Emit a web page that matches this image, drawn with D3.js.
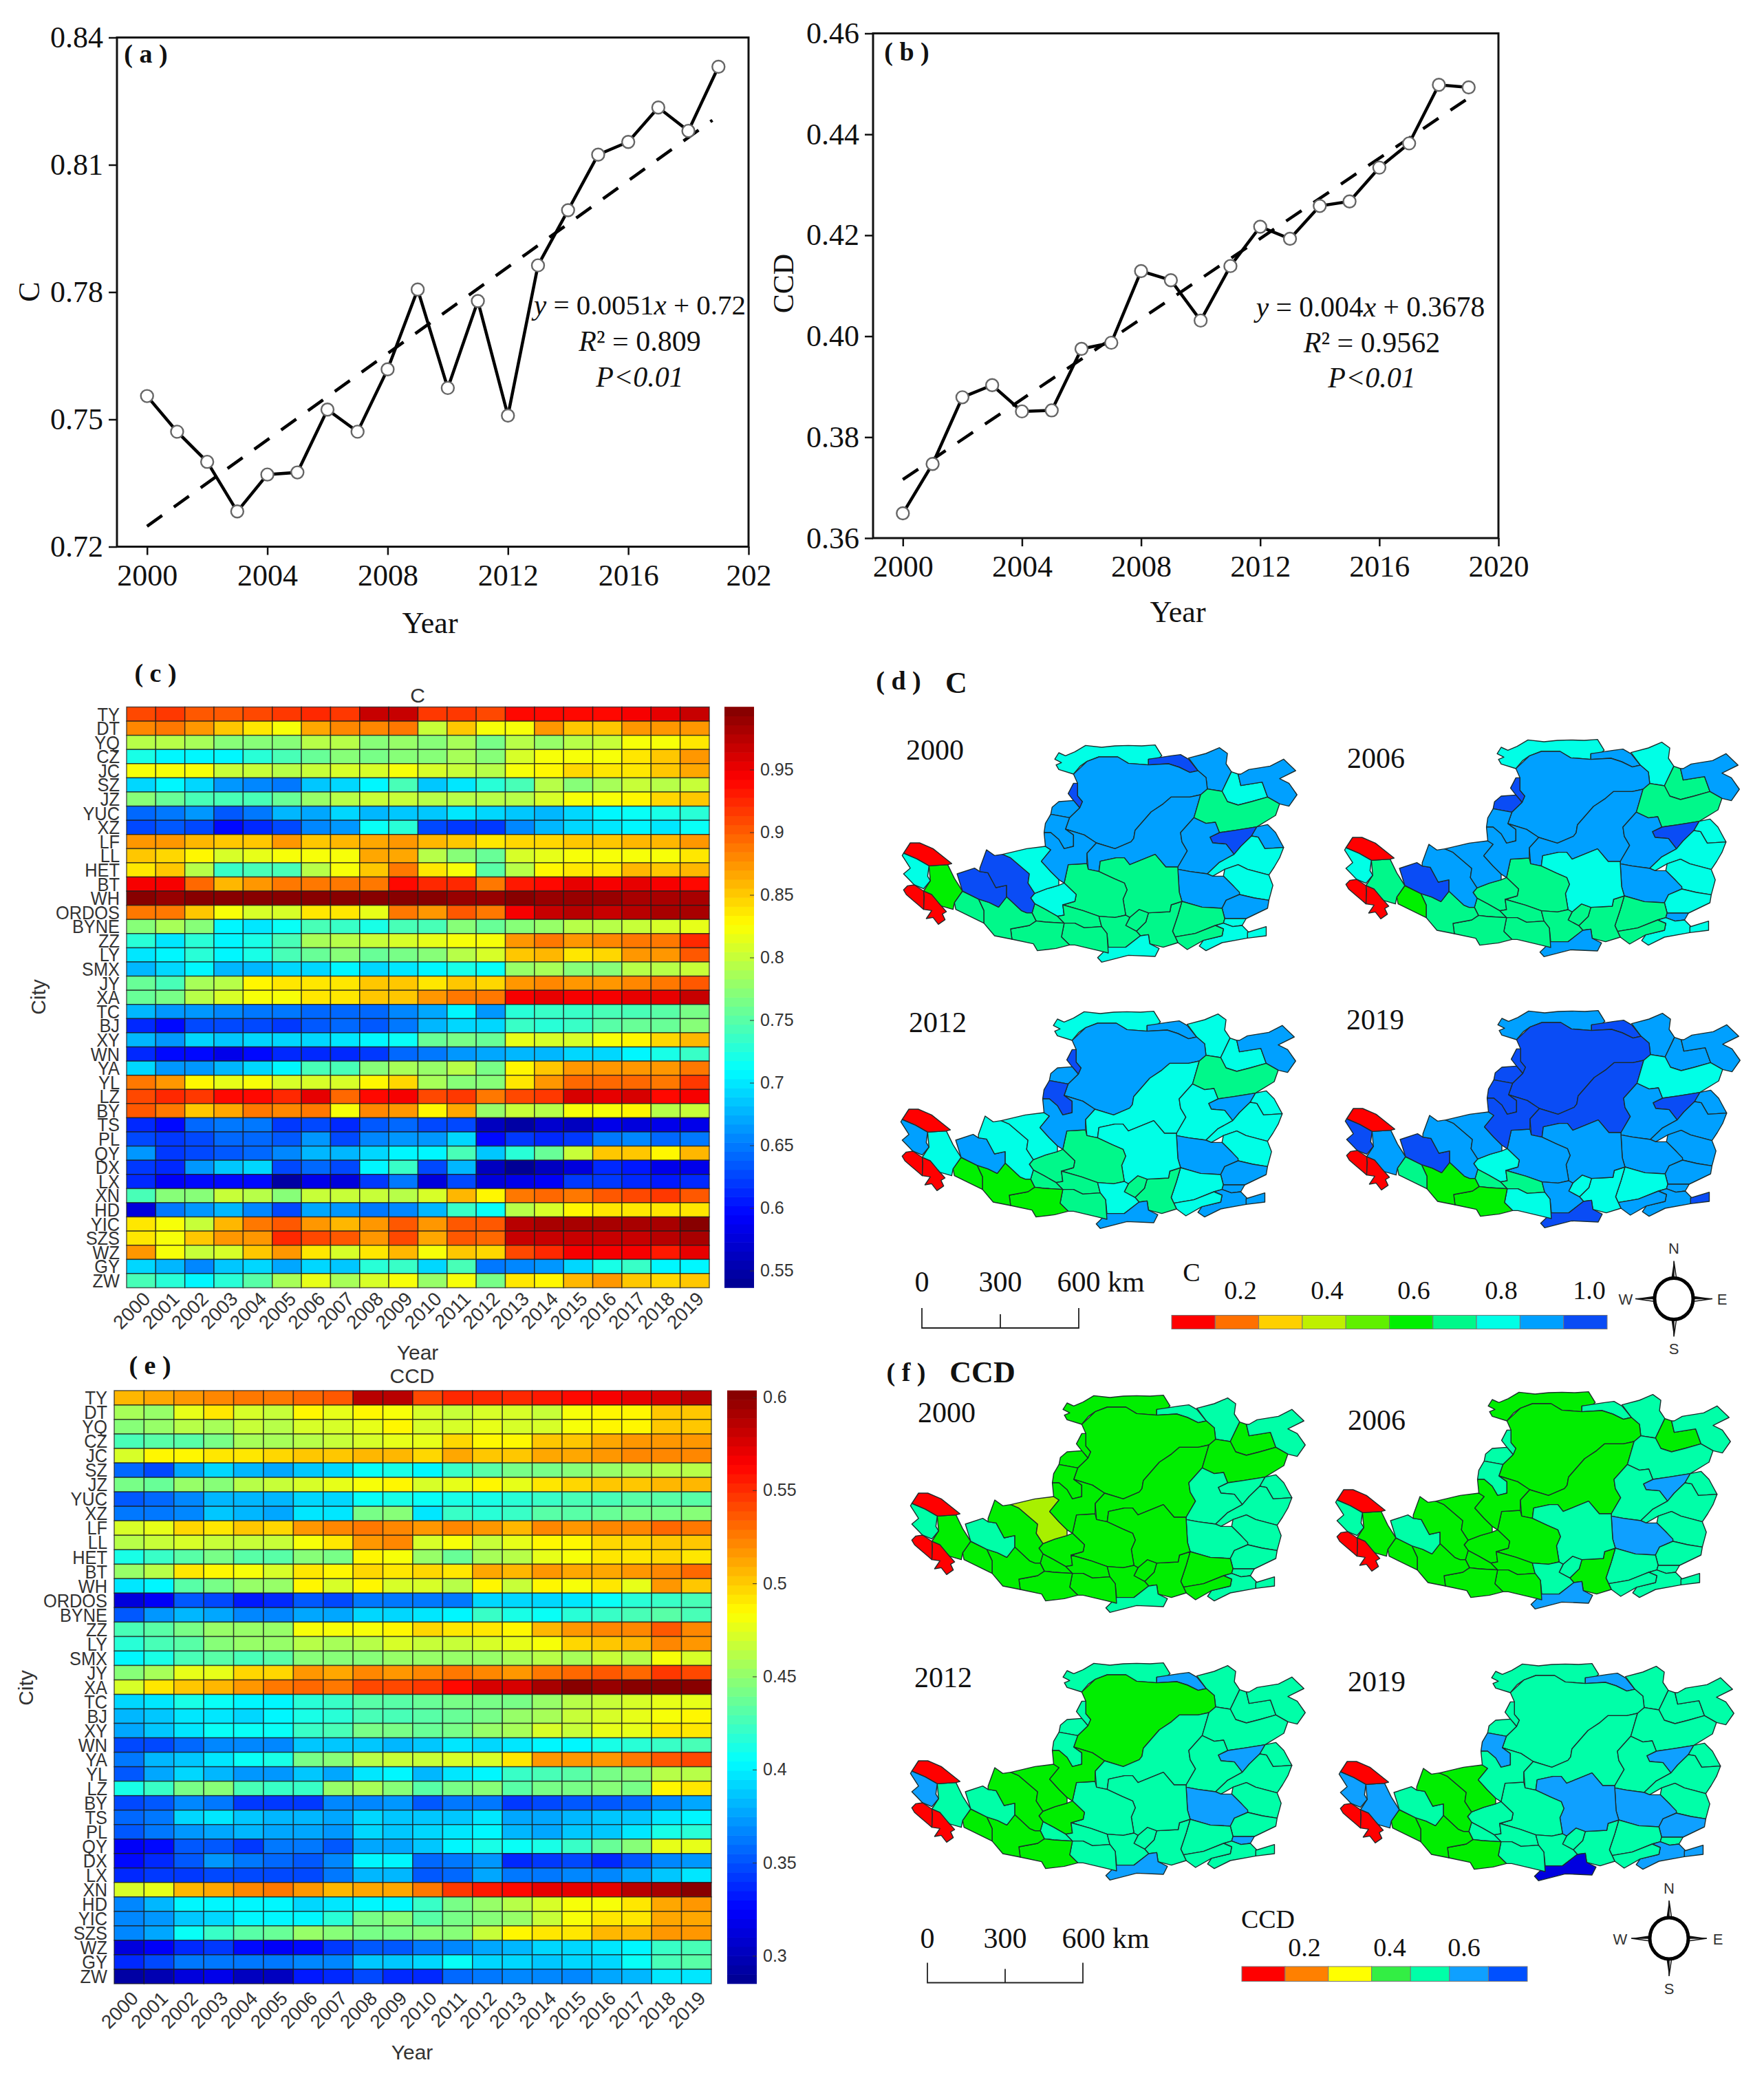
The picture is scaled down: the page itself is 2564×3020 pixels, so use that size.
<!DOCTYPE html>
<html><head><meta charset="utf-8">
<style>html,body{margin:0;padding:0;background:#fff}svg{display:block}</style>
<script src="https://cdn.jsdelivr.net/npm/d3@7"></script></head>
<body><svg id="c" width="2564" height="3020" xmlns="http://www.w3.org/2000/svg"></svg>
<script>
const yearsLine = d3.range(2000,2020);
const cMean = [.7555,.7471,.7400,.7283,.7370,.7375,.7523,.7471,.7618,.7806,.7574,.7779,.7509,.7863,.7993,.8124,.8154,.8235,.8180,.8331];
const ccdMean = [.3649,.3747,.3879,.3903,.3851,.3853,.3975,.3987,.4129,.4111,.4031,.4139,.4217,.4193,.4258,.4267,.4334,.4382,.4498,.4493];
const cTrend = [[2000,.7248],[2018.8,.8205]];
const ccdTrend = [[2000,.3716],[2018.9,.4468]];
const heatYears = d3.range(2000,2020).map(String);
const cities = ["TY","DT","YQ","CZ","JC","SZ","JZ","YUC","XZ","LF","LL","HET","BT","WH","ORDOS","BYNE","ZZ","LY","SMX","JY","XA","TC","BJ","XY","WN","YA","YL","LZ","BY","TS","PL","QY","DX","LX","XN","HD","YIC","SZS","WZ","GY","ZW"];
const cHeat = [
[.91,.915,.905,.905,.91,.915,.925,.92,.965,.97,.915,.915,.91,.94,.935,.94,.94,.945,.955,.965],
[.88,.885,.875,.85,.835,.825,.865,.88,.88,.89,.80,.85,.825,.825,.875,.85,.855,.87,.875,.875],
[.795,.79,.785,.77,.775,.775,.79,.79,.775,.78,.775,.785,.765,.79,.78,.795,.80,.825,.825,.84],
[.72,.705,.71,.705,.73,.745,.755,.775,.765,.775,.775,.785,.77,.81,.82,.825,.825,.84,.85,.875],
[.82,.825,.825,.80,.80,.79,.80,.81,.81,.825,.805,.80,.795,.825,.83,.845,.835,.84,.85,.865],
[.695,.71,.695,.66,.655,.645,.685,.695,.71,.74,.685,.70,.725,.745,.795,.775,.785,.80,.79,.80],
[.775,.755,.74,.745,.745,.76,.78,.79,.80,.80,.795,.79,.79,.795,.81,.825,.82,.83,.845,.855],
[.64,.645,.66,.635,.645,.68,.67,.69,.675,.685,.685,.70,.695,.685,.68,.695,.705,.715,.72,.73],
[.625,.635,.63,.60,.615,.625,.655,.66,.715,.725,.625,.62,.62,.655,.68,.69,.70,.705,.70,.715],
[.875,.87,.86,.85,.855,.875,.85,.86,.865,.87,.86,.85,.84,.845,.845,.85,.85,.86,.86,.875],
[.85,.845,.83,.81,.815,.825,.825,.825,.865,.865,.795,.775,.76,.805,.815,.825,.825,.825,.825,.84],
[.835,.85,.79,.735,.74,.74,.79,.82,.85,.885,.835,.825,.75,.79,.83,.835,.84,.86,.85,.86],
[.945,.945,.895,.86,.87,.885,.885,.885,.89,.935,.925,.925,.885,.93,.94,.95,.945,.955,.945,.935],
[.995,.99,.995,.995,.995,.995,.995,.995,.995,.995,.995,.99,.99,.995,.99,.99,.99,.985,.985,.98],
[.89,.885,.85,.82,.81,.805,.84,.84,.815,.885,.875,.905,.885,.945,.965,.975,.97,.975,.98,.985],
[.775,.785,.775,.71,.70,.715,.74,.735,.72,.745,.74,.77,.755,.77,.78,.79,.795,.80,.81,.815],
[.73,.70,.725,.705,.72,.745,.785,.795,.80,.805,.815,.825,.825,.875,.885,.875,.88,.89,.89,.925],
[.70,.705,.725,.705,.72,.74,.76,.77,.76,.765,.77,.795,.81,.85,.86,.835,.845,.875,.87,.90],
[.68,.69,.71,.68,.675,.69,.695,.705,.695,.70,.705,.72,.715,.78,.785,.77,.775,.79,.79,.80],
[.755,.74,.785,.79,.83,.835,.835,.84,.85,.855,.84,.85,.845,.87,.88,.875,.87,.88,.885,.905],
[.76,.765,.79,.805,.825,.825,.84,.84,.85,.855,.87,.885,.89,.945,.95,.945,.945,.955,.955,.965],
[.675,.66,.66,.655,.65,.645,.64,.64,.64,.655,.67,.705,.66,.725,.735,.735,.74,.745,.75,.765],
[.615,.60,.625,.625,.625,.62,.635,.64,.635,.65,.675,.69,.695,.735,.73,.735,.75,.755,.76,.77],
[.675,.665,.695,.685,.69,.695,.695,.70,.705,.715,.76,.765,.755,.815,.805,.805,.825,.83,.845,.86],
[.61,.60,.60,.585,.595,.61,.61,.615,.62,.64,.645,.665,.67,.675,.68,.69,.695,.71,.72,.735],
[.695,.665,.665,.68,.69,.705,.74,.745,.77,.785,.78,.79,.765,.83,.85,.87,.875,.875,.875,.885],
[.885,.87,.83,.815,.82,.81,.805,.81,.83,.845,.785,.775,.77,.84,.87,.895,.895,.895,.89,.915],
[.91,.925,.92,.935,.94,.925,.95,.895,.935,.945,.91,.92,.885,.91,.92,.96,.95,.96,.94,.945],
[.90,.885,.855,.865,.885,.88,.89,.825,.88,.875,.83,.865,.78,.80,.795,.82,.825,.83,.79,.80],
[.61,.595,.64,.645,.65,.62,.625,.61,.635,.64,.625,.63,.565,.55,.57,.565,.585,.575,.58,.585],
[.63,.62,.63,.64,.64,.635,.665,.625,.655,.665,.66,.695,.60,.62,.615,.62,.65,.655,.64,.65],
[.665,.62,.63,.635,.64,.655,.68,.68,.695,.705,.705,.74,.685,.725,.755,.80,.85,.855,.83,.86],
[.62,.61,.66,.685,.69,.625,.64,.625,.705,.735,.63,.675,.565,.54,.565,.575,.615,.605,.58,.58],
[.61,.59,.595,.60,.60,.55,.585,.575,.62,.65,.575,.625,.575,.58,.59,.62,.62,.615,.605,.615],
[.745,.775,.77,.80,.795,.775,.80,.80,.80,.79,.805,.86,.83,.89,.895,.89,.905,.91,.915,.905],
[.575,.65,.665,.675,.655,.63,.67,.66,.645,.655,.68,.735,.715,.795,.81,.83,.835,.84,.835,.84],
[.84,.82,.80,.86,.885,.90,.875,.86,.875,.90,.87,.90,.905,.975,.985,.98,.985,.985,.985,.995],
[.84,.825,.85,.87,.875,.925,.91,.905,.875,.91,.865,.905,.895,.97,.965,.97,.97,.97,.975,.985],
[.87,.825,.80,.81,.85,.875,.84,.805,.84,.86,.825,.85,.845,.91,.925,.945,.945,.945,.93,.95],
[.695,.675,.655,.685,.695,.67,.695,.685,.725,.735,.695,.74,.645,.655,.665,.695,.72,.735,.71,.71],
[.74,.725,.705,.725,.75,.785,.815,.785,.81,.82,.78,.82,.765,.84,.83,.86,.87,.85,.845,.855]];
const ccdHeat = [
[.505,.51,.515,.52,.525,.525,.53,.535,.585,.585,.54,.55,.55,.55,.555,.56,.565,.57,.575,.585],
[.455,.45,.475,.49,.47,.465,.485,.475,.485,.48,.47,.465,.47,.47,.465,.48,.485,.485,.50,.50],
[.445,.45,.46,.455,.465,.46,.47,.47,.475,.485,.47,.47,.475,.47,.47,.48,.485,.485,.50,.50],
[.425,.43,.43,.44,.455,.455,.46,.465,.47,.475,.475,.495,.485,.485,.50,.50,.51,.515,.515,.515],
[.47,.485,.485,.49,.49,.495,.50,.50,.505,.505,.495,.51,.50,.50,.51,.51,.515,.52,.52,.52],
[.355,.345,.375,.39,.38,.375,.385,.39,.405,.41,.40,.42,.43,.44,.44,.445,.45,.455,.46,.46],
[.44,.435,.45,.445,.46,.465,.47,.475,.48,.485,.47,.475,.485,.475,.49,.495,.50,.50,.505,.505],
[.35,.355,.365,.38,.38,.38,.39,.39,.405,.41,.405,.41,.41,.415,.42,.425,.425,.43,.43,.43],
[.36,.36,.365,.385,.38,.375,.395,.395,.44,.445,.395,.42,.415,.42,.43,.43,.435,.44,.44,.445],
[.47,.475,.495,.49,.50,.495,.515,.52,.525,.52,.515,.52,.515,.505,.52,.515,.52,.52,.53,.525],
[.46,.465,.47,.465,.465,.465,.48,.49,.515,.52,.47,.48,.465,.475,.485,.485,.495,.495,.50,.50],
[.41,.42,.43,.44,.43,.43,.445,.44,.485,.48,.45,.435,.455,.46,.475,.48,.49,.49,.495,.49],
[.45,.46,.49,.485,.48,.47,.49,.485,.495,.49,.495,.49,.51,.505,.515,.51,.51,.515,.52,.53],
[.395,.40,.43,.44,.45,.45,.485,.47,.485,.47,.47,.46,.485,.465,.485,.48,.49,.475,.515,.50],
[.31,.32,.35,.345,.33,.335,.35,.345,.36,.36,.36,.36,.39,.39,.39,.395,.405,.415,.42,.425],
[.35,.37,.38,.375,.365,.365,.375,.375,.39,.39,.395,.40,.42,.41,.405,.415,.42,.425,.43,.425],
[.425,.43,.44,.45,.45,.45,.48,.48,.48,.485,.495,.49,.49,.485,.505,.515,.52,.52,.535,.52],
[.415,.425,.43,.445,.45,.45,.46,.455,.46,.47,.465,.465,.47,.475,.48,.495,.50,.505,.52,.515],
[.40,.41,.425,.43,.425,.43,.445,.445,.445,.45,.45,.45,.45,.455,.46,.455,.465,.46,.48,.47],
[.445,.455,.475,.475,.495,.495,.515,.51,.52,.515,.52,.525,.52,.515,.525,.53,.535,.53,.545,.54],
[.47,.49,.50,.505,.515,.525,.53,.525,.54,.54,.545,.56,.575,.575,.59,.60,.595,.60,.60,.605],
[.39,.395,.41,.405,.40,.40,.415,.42,.43,.43,.435,.44,.44,.44,.45,.46,.465,.47,.475,.475],
[.38,.385,.395,.395,.39,.40,.41,.415,.425,.425,.43,.435,.44,.45,.455,.465,.47,.475,.48,.485],
[.375,.385,.395,.405,.405,.405,.42,.425,.44,.44,.435,.44,.45,.455,.47,.465,.475,.475,.49,.49],
[.345,.345,.355,.365,.365,.365,.385,.385,.385,.38,.385,.395,.39,.395,.40,.40,.41,.415,.42,.425],
[.36,.38,.385,.395,.405,.41,.44,.445,.46,.465,.465,.47,.47,.49,.515,.515,.515,.525,.535,.54],
[.35,.375,.39,.38,.37,.37,.385,.375,.395,.40,.38,.395,.40,.42,.425,.43,.44,.445,.46,.46],
[.41,.42,.44,.445,.425,.42,.42,.45,.455,.445,.43,.44,.445,.43,.44,.44,.445,.44,.485,.49],
[.345,.35,.365,.36,.34,.34,.34,.365,.365,.37,.35,.36,.36,.34,.345,.35,.35,.355,.365,.375],
[.355,.36,.39,.395,.385,.38,.38,.375,.39,.385,.385,.385,.395,.375,.375,.38,.385,.385,.395,.40],
[.35,.36,.37,.375,.38,.375,.375,.37,.39,.385,.39,.395,.40,.38,.375,.385,.385,.395,.41,.415],
[.32,.325,.35,.35,.34,.36,.36,.35,.375,.375,.385,.40,.41,.405,.41,.42,.435,.445,.475,.475],
[.325,.335,.35,.37,.36,.355,.35,.365,.40,.40,.355,.36,.37,.335,.34,.345,.335,.35,.365,.37],
[.335,.34,.34,.345,.345,.345,.345,.36,.38,.38,.35,.355,.375,.36,.36,.365,.365,.375,.385,.395],
[.47,.475,.505,.51,.52,.525,.515,.505,.51,.51,.525,.545,.555,.56,.57,.57,.57,.585,.59,.60],
[.365,.38,.40,.40,.40,.40,.39,.395,.40,.40,.42,.44,.45,.46,.47,.48,.48,.49,.51,.515],
[.365,.37,.385,.39,.40,.40,.40,.415,.44,.445,.43,.44,.445,.45,.465,.48,.49,.49,.51,.51],
[.365,.375,.405,.42,.43,.435,.45,.445,.44,.44,.445,.445,.465,.485,.49,.49,.505,.505,.515,.515],
[.31,.32,.335,.34,.325,.32,.325,.34,.35,.35,.36,.365,.375,.38,.39,.39,.395,.40,.42,.425],
[.335,.345,.36,.36,.36,.36,.365,.365,.385,.385,.39,.405,.39,.39,.385,.39,.39,.405,.425,.43],
[.29,.295,.31,.315,.30,.30,.33,.335,.345,.335,.335,.355,.36,.365,.365,.365,.375,.38,.395,.395]];
const jetStops = [0,.125,.375,.625,.875,1];
const jetColors = ["#00008f","#0000ff","#00ffff","#ffff00","#ff0000","#800000"];

// city outlines of the plateau, traced in a local map frame; order matches the class lists below
const mapShapes = [
[[625,100],[640,72],[665,85],[700,68],[740,40],[800,48],[850,42],[900,40],[950,42],[1000,38],[1025,85],[1010,100],[975,100],[975,125],[900,118],[860,90],[790,90],[745,110],[720,130],[695,165],[640,145],[630,125],[650,115]],
[[975,100],[1060,85],[1095,80],[1125,100],[1160,150],[1130,158],[1090,135],[1050,120],[975,125]],
[[1125,95],[1190,75],[1240,50],[1270,75],[1265,120],[1285,155],[1250,240],[1195,230],[1190,180],[1160,150]],
[[1250,240],[1285,155],[1310,165],[1320,215],[1400,200],[1420,265],[1360,285],[1310,300],[1270,285]],
[[1320,165],[1350,145],[1430,130],[1480,100],[1525,150],[1465,185],[1500,205],[1530,255],[1500,305],[1465,295],[1420,265],[1400,200],[1320,215],[1310,165]],
[[695,165],[745,110],[790,90],[860,90],[900,118],[975,125],[1050,120],[1090,135],[1130,158],[1160,150],[1190,180],[1195,230],[1170,255],[1130,265],[1060,265],[1030,295],[985,330],[925,410],[920,445],[910,460],[850,490],[780,465],[735,430],[665,405],[680,355],[718,312],[728,285],[710,260],[710,205]],
[[675,250],[695,205],[710,205],[710,260],[728,285],[718,312],[695,280]],
[[1030,295],[1060,265],[1130,265],[1170,255],[1145,355],[1095,420],[1100,460],[1120,500],[1085,570],[1040,570],[1000,515],[905,560],[885,530],[855,530],[795,545],[790,590],[750,580],[745,510],[780,465],[850,490],[910,460],[920,445],[925,410],[985,330]],
[[1145,355],[1170,255],[1195,230],[1250,240],[1270,285],[1310,300],[1360,285],[1420,265],[1465,295],[1450,345],[1380,395],[1300,410],[1240,420],[1225,375],[1190,380]],
[[1205,440],[1240,420],[1300,410],[1380,395],[1360,435],[1320,480],[1295,515],[1265,470],[1215,465]],
[[1380,395],[1420,385],[1450,420],[1480,485],[1410,490],[1385,440],[1360,435]],
[[1145,355],[1190,380],[1225,375],[1240,420],[1205,440],[1215,465],[1265,470],[1295,515],[1240,550],[1195,600],[1130,590],[1085,580],[1085,570],[1120,500],[1100,460],[1095,420]],
[[1320,480],[1360,435],[1385,440],[1410,490],[1480,485],[1465,530],[1445,570],[1425,605],[1345,580],[1310,560],[1260,580],[1215,610],[1195,600],[1240,550],[1295,515]],
[[1260,580],[1310,560],[1345,580],[1425,605],[1440,650],[1425,715],[1370,705],[1315,690],[1290,650],[1255,610]],
[[1085,580],[1130,590],[1195,600],[1215,610],[1255,610],[1290,650],[1315,680],[1315,690],[1265,715],[1250,750],[1175,745],[1100,720],[1090,680]],
[[1265,715],[1315,690],[1370,705],[1425,715],[1420,750],[1340,795],[1260,795],[1250,750]],
[[1100,720],[1175,745],[1250,750],[1260,795],[1255,815],[1225,825],[1150,860],[1075,875],[1065,850],[1085,780]],
[[1260,795],[1340,795],[1325,825],[1290,830],[1255,815]],
[[1255,815],[1290,830],[1325,825],[1350,855],[1345,880],[1250,900],[1190,935],[1165,915],[1180,890],[1250,870],[1255,840],[1225,825]],
[[1345,855],[1415,830],[1415,870],[1345,880]],
[[1075,875],[1150,860],[1225,825],[1255,840],[1250,870],[1180,890],[1120,930],[1085,900]],
[[975,770],[1055,765],[1060,735],[1100,720],[1085,780],[1065,850],[1075,875],[1085,900],[1030,920],[980,905],[975,865],[945,870],[930,850],[965,810]],
[[940,755],[975,770],[965,810],[930,850],[890,825],[905,790]],
[[905,560],[1000,515],[1040,570],[1085,570],[1085,580],[1090,680],[1100,720],[1060,735],[1055,765],[975,770],[940,755],[905,790],[890,780],[880,710],[895,670],[885,640],[845,620],[790,590],[795,545],[855,530],[885,530]],
[[675,560],[745,555],[750,580],[790,590],[845,620],[885,640],[895,670],[880,710],[890,780],[850,790],[790,785],[730,760],[655,735],[700,720],[705,690],[660,640]],
[[640,650],[660,640],[705,690],[700,720],[655,735],[660,780],[635,785],[590,755],[550,730],[535,705],[550,685],[595,665]],
[[655,735],[730,760],[790,785],[800,830],[735,835],[700,815],[660,815],[635,785],[660,780]],
[[550,730],[590,755],[635,785],[660,815],[590,810],[555,805],[540,770]],
[[790,785],[850,790],[890,780],[905,790],[890,825],[930,850],[945,870],[890,920],[825,920],[820,860],[800,830]],
[[825,920],[890,920],[945,870],[975,865],[980,905],[1015,925],[1000,960],[900,955],[800,985],[785,965]],
[[660,815],[700,815],[735,835],[800,830],[820,860],[825,945],[790,935],[700,910],[680,910],[650,875]],
[[460,840],[530,825],[555,805],[590,810],[660,815],[650,875],[680,910],[630,925],[560,935],[545,905],[465,885]],
[[340,710],[380,725],[415,745],[445,700],[500,760],[520,770],[540,770],[555,805],[530,825],[460,840],[465,885],[400,870],[360,815],[360,760]],
[[280,675],[340,710],[360,760],[360,815],[255,755],[250,725]],
[[155,565],[225,560],[250,620],[280,675],[250,725],[245,755],[200,740],[135,675],[160,630]],
[[60,510],[85,465],[120,465],[170,490],[240,555],[225,560],[155,565],[110,535]],
[[55,520],[60,510],[110,535],[155,565],[150,610],[160,630],[135,665],[100,648],[60,600],[85,575]],
[[60,670],[75,652],[100,648],[135,675],[137,700],[135,755],[115,735],[90,710],[70,690]],
[[135,675],[165,690],[190,725],[220,765],[205,775],[215,800],[190,820],[170,790],[145,795],[165,760],[135,755],[137,700]],
[[260,600],[325,575],[345,590],[375,595],[405,660],[445,650],[445,700],[415,745],[380,725],[340,710],[280,675]],
[[345,575],[370,495],[400,520],[430,515],[460,530],[530,600],[525,640],[550,685],[535,705],[550,730],[540,770],[520,770],[500,760],[445,700],[445,650],[405,660],[375,595],[345,590]],
[[430,515],[520,490],[590,480],[610,495],[575,545],[610,590],[640,625],[640,650],[595,665],[550,685],[525,640],[530,600],[460,530]],
[[610,340],[615,310],[640,285],[695,280],[718,312],[680,355]],
[[590,380],[610,340],[680,355],[665,405],[695,430],[695,480],[660,490],[640,450],[610,420],[585,420]],
[[585,420],[610,420],[640,450],[660,490],[695,480],[695,430],[665,405],[735,430],[780,465],[745,510],[745,555],[675,560],[660,640],[640,625],[610,590],[575,545],[610,495],[590,480]]
];
const dYears = ["2000","2006","2012","2019"];
const dClass2000 = [7,9,8,7,8,8,9,8,6,9,8,8,7,7,8,8,6,7,7,7,6,6,6,6,6,7,6,6,6,7,6,6,6,6,5,0,7,0,0,9,9,7,8,8,8];
const dClass2006 = [7,8,7,6,8,8,9,8,6,9,7,8,7,7,8,7,6,8,7,7,6,6,6,7,6,6,6,6,6,8,6,6,6,5,6,0,7,0,0,9,8,8,9,8,8];
const dClass2012 = [7,8,7,7,8,8,9,7,6,8,7,7,7,7,8,8,7,8,8,8,7,6,6,7,6,6,6,6,7,8,6,5,5,5,7,0,8,0,0,8,7,7,8,9,8];
const dClass2019 = [8,9,8,8,8,9,9,9,7,9,8,8,8,8,8,8,7,8,8,9,8,7,7,8,8,7,6,6,8,9,7,5,5,6,8,0,9,0,0,9,8,8,9,9,9];
const fClass2000 = [2,3,3,2,3,2,2,2,2,3,3,3,3,3,3,3,2,3,3,3,2,2,2,2,2,2,2,2,2,3,2,2,2,2,2,0,3,0,0,3,2,1,2,2,2];
const fClass2006 = [2,3,3,2,3,2,3,2,3,4,3,3,3,3,4,3,3,3,3,3,3,2,3,3,2,2,2,2,3,4,2,2,2,2,2,0,3,0,0,3,2,2,3,3,2];
const fClass2012 = [3,4,3,3,3,2,3,3,3,4,3,3,3,3,4,3,3,4,3,3,3,3,3,3,3,2,3,3,3,4,3,2,2,2,3,0,4,0,0,3,2,2,3,3,2];
const fClass2019 = [3,4,3,3,3,3,3,3,3,4,3,3,3,3,4,4,3,3,4,4,3,3,3,4,3,3,3,3,3,5,3,2,2,2,4,0,4,0,0,3,2,2,3,4,3];
const dPalette = ["#ff0000","#ff7000","#ffd000","#bff000","#60f000","#00f000","#00f88a","#00ffe6","#00a0ff","#0a4cf5"];
const fPalette = ["#ff0000","#a8f000","#00ee00","#00ffa8","#0fa0ff","#0000e0"];
const dLegendLabels = ["0.2","0.4","0.6","0.8","1.0"];
const dLegendColors = dPalette;
const fLegendColors = ["#ff0000","#ff8000","#ffff00","#33ee44","#00ffa8","#0fa0ff","#0050ff"];
const fLegendEdges = [0,.1,.2,.3,.39,.48,.57,.66];
const fLegendLabels = ["0.2","0.4","0.6"];

const SERIF="'Liberation Serif',serif", SANS="'Liberation Sans',sans-serif";
const svg=d3.select("#c");
svg.append("rect").attr("width",2564).attr("height",3020).attr("fill","#fff");
function T(x,y,s,o={}){
  const t=svg.append("text").attr("x",x).attr("y",y).attr("dy",".35em").attr("text-anchor",o.a||"middle")
   .attr("font-family",o.f||SERIF).attr("font-size",o.s||40).attr("font-weight",o.w||"normal").attr("fill",o.c||"#111");
  if(o.i)t.attr("font-style","italic");
  if(o.r!=null)t.attr("transform",`rotate(${o.r} ${x} ${y})`);
  if(Array.isArray(s))s.forEach(p=>{const k=t.append("tspan").text(p[0]);if(p[1])k.attr("font-style","italic");});
  else t.text(s);
  return t;
}
function linePanel(b,ydom,yt,data,trend,xLabel){
  const x=d3.scaleLinear().domain([1999,2020]).range([b.l,b.r]);
  const y=d3.scaleLinear().domain(ydom).range([b.b,b.t]);
  const ax=d3.axisBottom(x).tickValues(d3.range(2000,2021,4)).tickSize(12).tickPadding(13).tickFormat(xLabel);
  const ay=d3.axisLeft(y).tickValues(yt).tickSize(12).tickPadding(8).tickFormat(d3.format(".2f"));
  [[ax,`translate(0,${b.b})`],[ay,`translate(${b.l},0)`]].forEach(([a,tr])=>{
    const g=svg.append("g").attr("transform",tr).call(a);
    g.selectAll("text").attr("font-family",SERIF).attr("font-size",44).attr("fill","#111");
    g.selectAll("line").attr("stroke","#111").attr("stroke-width",2.5);
    g.select(".domain").remove();
  });
  svg.append("rect").attr("x",b.l).attr("y",b.t).attr("width",b.r-b.l).attr("height",b.b-b.t).attr("fill","none").attr("stroke","#111").attr("stroke-width",3);
  const ln=d3.line().x(d=>x(d[0])).y(d=>y(d[1]));
  svg.append("path").attr("d",ln(trend)).attr("fill","none").attr("stroke","#000").attr("stroke-width",4.5).attr("stroke-dasharray","27 21");
  const pts=yearsLine.map((k,i)=>[k,data[i]]);
  svg.append("path").attr("d",ln(pts)).attr("fill","none").attr("stroke","#000").attr("stroke-width",4.5);
  svg.selectAll(null).data(pts).enter().append("circle").attr("cx",d=>x(d[0])).attr("cy",d=>y(d[1])).attr("r",9)
    .attr("fill","#fff").attr("stroke","#666").attr("stroke-width",2.4);
}
linePanel({l:170,r:1088,t:54.5,b:794.5},[.72,.84],[.72,.75,.78,.81,.84],cMean,cTrend,d=>d===2020?"202":String(d));
linePanel({l:1269,r:2178,t:48.5,b:782},[.36,.46],[.36,.38,.40,.42,.44,.46],ccdMean,ccdTrend,String);
T(42,424,"C",{r:-90,s:44});T(1138,412,"CCD",{r:-90,s:42});
T(625,905,"Year",{s:44});T(1712,889,"Year",{s:44});
T(212,78,"( a )",{w:"bold",s:38});T(1318,75,"( b )",{w:"bold",s:38});
T(930,443,[["y",1],[" = 0.0051"],["x",1],[" + 0.72"]],{s:41});
T(930,495,[["R",1],["² = 0.809"]],{s:42});T(930,547,"P<0.01",{s:42,i:1});
T(1992,445,[["y",1],[" = 0.004"],["x",1],[" + 0.3678"]],{s:41.5});
T(1994,497,[["R",1],["² = 0.9562"]],{s:42});T(1994,548,"P<0.01",{s:42,i:1});

function heat(b,cb,dom,cbTicks,mat,title,pos){
  const x=d3.scaleBand().domain(heatYears).range([b.l,b.r]);
  const y=d3.scaleBand().domain(cities).range([b.t,b.b]);
  const cs=d3.scaleLinear().domain(jetStops).range(jetColors).clamp(true);
  const nrm=d3.scaleLinear().domain(dom).range([0,1]).clamp(true);
  const q=v=>cs((Math.floor(nrm(v)*63.999)+.5)/64);
  mat.forEach((row,i)=>row.forEach((v,j)=>{
    svg.append("rect").attr("x",x(heatYears[j])).attr("y",y(cities[i])).attr("width",x.bandwidth()).attr("height",y.bandwidth())
      .attr("fill",q(v)).attr("stroke","#1a1a1a").attr("stroke-opacity",.72).attr("stroke-width",1.5);
  }));
  const ay=svg.append("g").attr("transform",`translate(${b.l},0)`).call(d3.axisLeft(y).tickSize(0));
  ay.select(".domain").remove();
  ay.selectAll("text").attr("font-family",SANS).attr("font-size",27).attr("fill","#333").attr("text-anchor","end")
    .attr("x",-pos.lab/.94).attr("dy",".36em").attr("transform","scale(.94,1)");
  const ax=svg.append("g").attr("transform",`translate(0,${b.b})`).call(d3.axisBottom(x).tickSize(0));
  ax.select(".domain").remove();
  ax.selectAll("text").attr("font-family",SANS).attr("font-size",28).attr("fill","#333").attr("text-anchor","end").attr("dy",0)
    .attr("y",0).attr("x",0).attr("transform",`translate(15,${pos.tk}) rotate(-45)`);
  const ys=d3.scaleLinear().domain(dom).range([b.b,b.t]);
  const n=64, h=(b.b-b.t)/n;
  d3.range(n).forEach(k=>svg.append("rect").attr("x",cb.l).attr("y",b.b-(k+1)*h-.3).attr("width",cb.r-cb.l).attr("height",h+.6)
     .attr("fill",cs((k+.5)/n)));
  const g=svg.append("g").attr("transform",`translate(${cb.r},0)`).call(d3.axisRight(ys).tickValues(cbTicks).tickSize(-6).tickFormat(d=>String(+d.toFixed(2))));
  g.select(".domain").remove();
  g.selectAll("line").attr("stroke","#333");
  g.selectAll("text").attr("font-family",SANS).attr("font-size",25).attr("fill","#333").attr("x",9);
  T(pos.cityX,pos.cityY,"City",{f:SANS,s:30,r:-90,c:"#333"});
  T(pos.titleX,pos.titleY,title,{f:SANS,s:30,c:"#333"});
  T(pos.titleX,pos.yearY,"Year",{f:SANS,s:30,c:"#333"});
}
heat({l:184,r:1031,t:1027.5,b:1871.5},{l:1053,r:1096},[.5363,1.0],[.55,.6,.65,.7,.75,.8,.85,.9,.95],cHeat,"C",
  {lab:10,tk:18,cityX:55,cityY:1449,titleX:607,titleY:1010,yearY:1965});
heat({l:166,r:1034,t:2021,b:2883},{l:1057,r:1100},[.285,.6035],[.3,.35,.4,.45,.5,.55,.6],ccdHeat,"CCD",
  {lab:10,tk:23,cityX:37,cityY:2453,titleX:599,titleY:1999,yearY:2982});
T(226,978,"( c )",{w:"bold",s:38});T(218,1984,"( e )",{w:"bold",s:38});

function drawMap(x0,y0,cls,pal,yr,lx,ly){
  const xs=d3.scaleLinear().domain([0,1568]).range([x0,x0+610]);
  const ys=d3.scaleLinear().domain([0,1020]).range([y0,y0+340]);
  const path=d3.geoPath(d3.geoTransform({point(a,b){this.stream.point(xs(a),ys(b));}}));
  mapShapes.forEach((ring,i)=>{
    svg.append("path").datum({type:"Polygon",coordinates:[ring.concat([ring[0]])]}).attr("d",path)
      .attr("fill",pal[cls[i]]).attr("stroke","#1c2c2c").attr("stroke-width",1.4).attr("stroke-linejoin","round");
  });
  T(lx,ly,yr,{s:42});
}
drawMap(1290,1070,dClass2000,dPalette,dYears[0],1359,1089);
drawMap(1933,1062,dClass2006,dPalette,dYears[1],2000,1101);
drawMap(1288,1457,dClass2012,dPalette,dYears[2],1363,1485);
drawMap(1934,1456,dClass2019,dPalette,dYears[3],1999,1481);
drawMap(1302,2015,fClass2000,fPalette,dYears[0],1376,2052);
drawMap(1920,2010,fClass2006,fPalette,dYears[1],2001,2063);
drawMap(1302,2404,fClass2012,fPalette,dYears[2],1371,2437);
drawMap(1925,2405,fClass2019,fPalette,dYears[3],2001,2443);
T(1306,989,"( d )",{w:"bold",s:38});T(1390,992,"C",{w:"bold",s:44});
T(1317,1994,"( f )",{w:"bold",s:38});T(1428,1994,"CCD",{w:"bold",s:44});

function scaleBar(x0,x1,yb,yl){
  const k=d3.scaleLinear().domain([0,600]).range([x0,x1]);
  svg.append("path").attr("d",`M${k(0)},${yb-29}V${yb}H${k(600)}V${yb-29}M${k(300)},${yb}V${yb-20}`).attr("fill","none").attr("stroke","#222").attr("stroke-width",1.8);
  T(k(0),yl,"0",{s:42});T(k(300),yl,"300",{s:42});T(k(300)+146,yl,"600 km",{s:42});
}
scaleBar(1340,1568,1930,1862);scaleBar(1348,1574,2881.5,2816);

// C legend
const dL=d3.scaleLinear().domain([0,dLegendColors.length]).range([1703,2336]);
dLegendColors.forEach((c,i)=>svg.append("rect").attr("x",dL(i)).attr("y",1911.5).attr("width",dL(1)-dL(0)).attr("height",20).attr("fill",c).attr("stroke","#777").attr("stroke-width",1));
dLegendLabels.forEach((s,i)=>T([1803,1929,2055,2182,2310][i],1875,s,{s:38}));
T(1732,1849,"C",{s:38});
// CCD legend
const fL=d3.scaleLinear().domain([0,.66]).range([1805,2220]);
fLegendColors.forEach((c,i)=>svg.append("rect").attr("x",fL(fLegendEdges[i])).attr("y",2858).attr("width",fL(fLegendEdges[i+1])-fL(fLegendEdges[i])).attr("height",21.5).attr("fill",c).attr("stroke","#777").attr("stroke-width",1));
fLegendLabels.forEach((s,i)=>T([1896,2020,2128][i],2830,s,{s:38}));
T(1843,2789,"CCD",{s:38});

function compass(cx,cy,lenV,lenH,labV,labH){
  const g=svg.append("g").attr("transform",`translate(${cx},${cy})`);
  const w=8;
  [[0,-lenV,1,0],[0,lenV,1,0],[-lenH,0,0,1],[lenH,0,0,1]].forEach(([dx,dy,ax,ay])=>{
    g.append("path").attr("d",`M${dx},${dy}L${ax*-w},${ay*-w}L0,0Z`).attr("fill","#111");
    g.append("path").attr("d",`M${dx},${dy}L${ax*w},${ay*w}L0,0Z`).attr("fill","#fff").attr("stroke","#111").attr("stroke-width",1.5);
  });
  g.append("ellipse").attr("rx",28).attr("ry",30).attr("fill","#fff").attr("stroke","#000").attr("stroke-width",5);
  T(cx,cy-labV,"N",{f:SANS,s:22,c:"#333"});T(cx,cy+labV,"S",{f:SANS,s:22,c:"#333"});
  T(cx-labH,cy+1,"W",{f:SANS,s:22,c:"#333"});T(cx+labH,cy+1,"E",{f:SANS,s:22,c:"#333"});
}
compass(2433,1887.5,55,56,73,70);
compass(2426,2817,55,55,73,71);
</script></body></html>
